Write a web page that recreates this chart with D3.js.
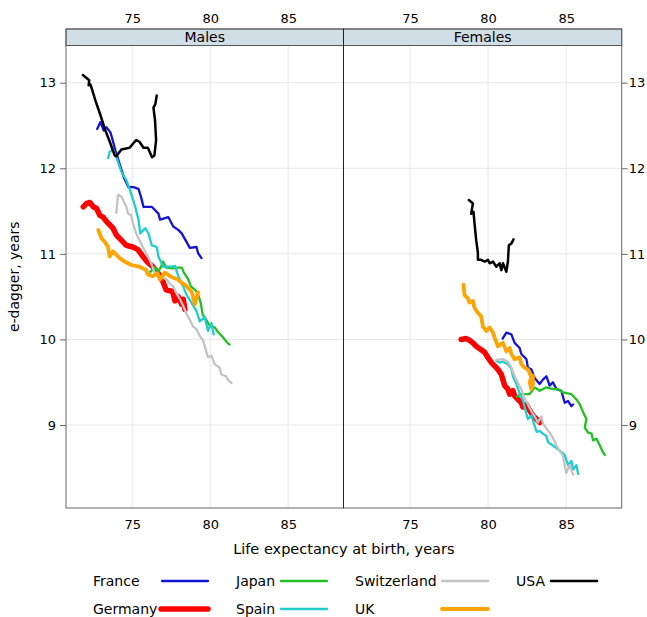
<!DOCTYPE html>
<html>
<head>
<meta charset="utf-8">
<script src="https://cdn.jsdelivr.net/npm/d3@7"></script>
<style>
  body { margin: 0; background: #fff; }
  text { font-family: "DejaVu Sans", sans-serif; fill: #000; }
</style>
</head>
<body>
<script>
// Categories, panels and tick labels
const countries = ["France", "Germany", "Japan", "Spain", "Switzerland", "UK", "USA"];
const sexes = ["Males", "Females"];
const xTicks = [75, 80, 85];
const yTicks = [9, 10, 11, 12, 13];

// [life expectancy at birth, e-dagger]
const franceMales = [[72.75,12.46],[72.96,12.54],[73.17,12.44],[73.34,12.48],[73.60,12.42],[73.71,12.35],[73.92,12.21],[74.24,12.02],[74.49,11.88],[74.75,11.78],[75.08,11.78],[75.40,11.76],[75.57,11.66],[75.72,11.55],[76.25,11.55],[76.68,11.47],[76.78,11.40],[77.31,11.43],[77.63,11.32],[77.95,11.28],[78.17,11.24],[78.48,11.14],[78.69,11.07],[79.12,11.08],[79.22,11.01],[79.44,10.95]];
const germanyMales = [[71.86,11.55],[72.07,11.59],[72.28,11.60],[72.50,11.55],[72.71,11.53],[72.92,11.45],[73.13,11.43],[73.34,11.38],[73.55,11.34],[73.77,11.30],[73.98,11.22],[74.30,11.16],[74.62,11.10],[75.04,11.08],[75.36,11.05],[75.68,10.97],[76.00,10.90],[76.32,10.85],[76.64,10.78],[76.96,10.68],[77.17,10.58],[77.59,10.56],[77.74,10.45],[77.95,10.50],[78.17,10.41],[78.27,10.47],[78.38,10.35]];
const japanMales = [[76.15,10.79],[76.46,10.84],[76.66,10.79],[76.85,10.85],[76.97,10.91],[77.17,10.84],[77.61,10.83],[77.93,10.84],[78.18,10.84],[78.31,10.78],[78.57,10.71],[78.76,10.62],[79.08,10.57],[79.27,10.50],[79.39,10.43],[79.52,10.29],[79.78,10.22],[79.97,10.16],[80.29,10.14],[80.48,10.09],[80.80,10.03],[81.05,9.97],[81.24,9.94]];
const spainMales = [[73.45,12.12],[73.55,12.19],[73.77,12.22],[73.98,12.13],[74.19,12.02],[74.30,11.96],[74.62,11.86],[74.87,11.74],[75.19,11.55],[75.40,11.40],[75.51,11.24],[75.83,11.30],[76.04,11.24],[76.25,11.10],[76.57,11.08],[76.68,10.97],[76.99,10.85],[77.31,10.85],[77.53,10.85],[77.74,10.86],[77.95,10.74],[78.27,10.62],[78.48,10.52],[78.80,10.43],[79.12,10.33],[79.33,10.21],[79.65,10.26],[79.86,10.10],[80.08,10.19],[80.22,10.06]];
const switzerlandMales = [[73.98,11.48],[74.09,11.69],[74.30,11.67],[74.62,11.55],[74.73,11.47],[74.94,11.45],[75.04,11.36],[75.25,11.24],[75.46,11.16],[75.68,11.08],[76.00,10.97],[76.21,10.89],[76.42,10.79],[76.74,10.74],[77.21,10.70],[77.42,10.65],[77.63,10.62],[77.80,10.55],[78.06,10.47],[78.27,10.39],[78.48,10.30],[78.69,10.23],[78.90,10.15],[79.12,10.12],[79.33,10.04],[79.52,10.00],[79.65,9.92],[79.86,9.79],[80.08,9.81],[80.29,9.71],[80.61,9.67],[80.71,9.59],[81.03,9.57],[81.13,9.53],[81.37,9.49]];
const ukMales = [[72.82,11.28],[73.03,11.18],[73.24,11.14],[73.45,11.08],[73.55,10.97],[73.77,11.03],[73.98,10.99],[74.19,10.95],[74.51,10.91],[74.94,10.87],[75.46,10.85],[75.89,10.81],[76.00,10.76],[76.32,10.74],[76.64,10.77],[76.78,10.70],[77.10,10.78],[77.42,10.74],[77.63,10.72],[77.95,10.70],[78.17,10.66],[78.38,10.64],[78.59,10.60],[78.80,10.56],[78.90,10.50],[79.01,10.41],[79.14,10.49],[79.22,10.55]];
const usaMales = [[71.83,13.09],[72.24,13.03],[72.20,12.97],[72.32,12.98],[72.64,12.79],[72.96,12.62],[73.28,12.44],[73.60,12.29],[73.87,12.15],[73.98,12.14],[74.30,12.22],[74.83,12.24],[75.25,12.33],[75.46,12.31],[75.72,12.24],[76.00,12.24],[76.27,12.13],[76.42,12.15],[76.53,12.33],[76.46,12.56],[76.36,12.71],[76.48,12.75],[76.57,12.85]];

const franceFemales = [[80.93,10.01],[81.17,10.08],[81.49,10.06],[81.70,9.96],[82.02,9.90],[82.13,9.83],[82.45,9.77],[82.55,9.67],[82.77,9.65],[82.98,9.55],[83.30,9.48],[83.51,9.53],[83.73,9.57],[83.94,9.46],[84.15,9.50],[84.37,9.42],[84.69,9.40],[84.90,9.26],[85.12,9.28],[85.33,9.22],[85.44,9.24]];
const germanyFemales = [[78.28,10.00],[78.60,10.01],[78.81,9.99],[79.03,9.96],[79.24,9.92],[79.56,9.88],[79.78,9.85],[79.99,9.79],[80.21,9.73],[80.42,9.69],[80.63,9.65],[80.85,9.59],[80.95,9.53],[81.06,9.46],[81.27,9.42],[81.38,9.36],[81.59,9.40],[81.70,9.34],[81.91,9.30],[82.13,9.26],[82.23,9.21],[82.45,9.24],[82.66,9.17],[82.87,9.11],[83.09,9.07],[83.30,9.03]];
const japanFemales = [[81.83,9.33],[82.13,9.36],[82.66,9.36],[82.98,9.44],[83.30,9.40],[83.73,9.44],[84.15,9.42],[84.47,9.42],[84.79,9.38],[85.33,9.36],[85.65,9.30],[85.87,9.24],[86.08,9.15],[86.29,9.07],[86.19,8.97],[86.40,8.91],[86.62,8.90],[86.72,8.82],[86.94,8.84],[87.15,8.76],[87.36,8.68],[87.47,8.65]];
const spainFemales = [[80.54,9.75],[80.74,9.73],[80.95,9.74],[81.27,9.71],[81.49,9.66],[81.59,9.57],[81.81,9.48],[82.02,9.37],[82.23,9.29],[82.34,9.21],[82.45,9.13],[82.55,9.07],[82.77,9.11],[82.87,9.05],[82.98,8.99],[83.11,8.92],[83.30,8.93],[83.51,8.90],[83.73,8.87],[83.83,8.80],[84.15,8.76],[84.37,8.73],[84.58,8.70],[84.90,8.65],[85.12,8.53],[85.33,8.58],[85.44,8.48],[85.65,8.53],[85.76,8.43]];
const switzerlandFemales = [[80.54,9.76],[80.95,9.77],[81.27,9.74],[81.49,9.67],[81.70,9.57],[81.91,9.49],[82.13,9.42],[82.34,9.31],[82.55,9.24],[82.77,9.16],[82.98,9.10],[83.19,9.03],[83.41,9.10],[83.51,9.02],[83.73,8.96],[83.94,8.91],[84.15,8.85],[84.37,8.76],[84.58,8.70],[84.79,8.64],[84.90,8.53],[85.01,8.44],[85.22,8.53],[85.44,8.42]];
const ukFemales = [[78.43,10.64],[78.49,10.52],[78.71,10.48],[78.81,10.43],[79.03,10.45],[79.13,10.37],[79.35,10.31],[79.56,10.27],[79.67,10.15],[79.88,10.10],[80.10,10.14],[80.31,10.08],[80.42,10.02],[80.63,9.92],[80.95,9.96],[81.17,9.86],[81.38,9.90],[81.49,9.83],[81.70,9.77],[82.02,9.79],[82.13,9.71],[82.34,9.67],[82.55,9.65],[82.66,9.61],[82.77,9.55],[82.66,9.50],[82.77,9.42],[82.87,9.48],[82.87,9.58]];
const usaFemales = [[78.77,11.63],[79.03,11.59],[78.92,11.47],[79.07,11.49],[79.13,11.36],[79.24,11.16],[79.35,11.01],[79.35,10.93],[79.56,10.93],[79.78,10.91],[79.99,10.93],[80.10,10.89],[80.31,10.91],[80.53,10.85],[80.74,10.89],[80.85,10.81],[80.95,10.89],[81.17,10.79],[81.27,10.91],[81.33,11.10],[81.49,11.12],[81.63,11.17]];

const series = {
  Males: [franceMales, germanyMales, japanMales, spainMales, switzerlandMales, ukMales, usaMales],
  Females: [franceFemales, germanyFemales, japanFemales, spainFemales, switzerlandFemales, ukFemales, usaFemales]
};

// styles
const colors = { France: "#1414d2", Germany: "#ff0000", Japan: "#22c022", Spain: "#22cccc",
                 Switzerland: "#c3c3c3", UK: "#ffa500", USA: "#000000" };
const widths = { France: 2.3, Germany: 5.5, Japan: 2.3, Spain: 2.3, Switzerland: 2.3, UK: 3.8, USA: 2.5 };

const W = 647, H = 617;
const stripTop = 29, panelTop = 45.5, panelBottom = 508;
const panelX = [[66, 343.5], [343.5, 621.7]];

const svg = d3.select("body").append("svg")
    .attr("width", W)
    .attr("height", H);

const y = d3.scaleLinear().domain([8.03, 13.435]).range([panelBottom, panelTop]);

sexes.forEach(function (sex, i) {
  const x = d3.scaleLinear().domain([70.75, 88.55]).range(panelX[i]);
  const g = svg.append("g");

  // grid
  g.selectAll(".vg").data(xTicks).join("line")
    .attr("x1", d => x(d)).attr("x2", d => x(d))
    .attr("y1", panelTop).attr("y2", panelBottom)
    .attr("stroke", "#e8e8e8");
  g.selectAll(".hg").data(yTicks).join("line")
    .attr("class", "hg")
    .attr("x1", panelX[i][0]).attr("x2", panelX[i][1])
    .attr("y1", d => y(d)).attr("y2", d => y(d))
    .attr("stroke", "#e8e8e8");

  svg.append("clipPath").attr("id", "clip" + i)
    .append("rect")
    .attr("x", panelX[i][0]).attr("y", panelTop)
    .attr("width", panelX[i][1] - panelX[i][0]).attr("height", panelBottom - panelTop);

  const line = d3.line().x(d => x(d[0])).y(d => y(d[1]));

  g.append("g").attr("clip-path", `url(#clip${i})`)
    .selectAll("path")
    .data(series[sex])
    .join("path")
    .attr("d", line)
    .attr("fill", "none")
    .attr("stroke", (d, k) => colors[countries[k]])
    .attr("stroke-width", (d, k) => widths[countries[k]])
    .attr("stroke-linejoin", "round")
    .attr("stroke-linecap", "round");

  // strip
  g.append("rect")
    .attr("x", panelX[i][0]).attr("y", stripTop)
    .attr("width", panelX[i][1] - panelX[i][0]).attr("height", panelTop - stripTop)
    .attr("fill", "#d2dee6").attr("stroke", "#555");
  g.append("text")
    .attr("x", (panelX[i][0] + panelX[i][1]) / 2).attr("y", panelTop - 3.5)
    .attr("text-anchor", "middle").style("font-size", "14px")
    .text(sex);

  // top and bottom axes
  const top = g.append("g").attr("transform", `translate(0,${stripTop})`)
    .call(d3.axisTop(x).tickValues(xTicks).tickSize(0).tickPadding(6));
  const bottom = g.append("g").attr("transform", `translate(0,${panelBottom})`)
    .call(d3.axisBottom(x).tickValues(xTicks).tickSize(0).tickPadding(12));
  [top, bottom].forEach(a => {
    a.select(".domain").remove();
    a.selectAll("text").style("font-size", "13px").style("font-family", "DejaVu Sans");
  });

  // panel border
  g.append("rect")
    .attr("x", panelX[i][0]).attr("y", stripTop)
    .attr("width", panelX[i][1] - panelX[i][0]).attr("height", panelBottom - stripTop)
    .attr("fill", "none").attr("stroke", "#666");
});

// middle divider
svg.append("line")
  .attr("x1", panelX[1][0]).attr("x2", panelX[1][0])
  .attr("y1", stripTop).attr("y2", panelBottom)
  .attr("stroke", "#222");

// y axes
const left = svg.append("g").attr("transform", `translate(${panelX[0][0]},0)`)
  .call(d3.axisLeft(y).tickValues(yTicks).tickFormat(d3.format("d")).tickSize(6).tickPadding(4));
const right = svg.append("g").attr("transform", `translate(${panelX[1][1]},0)`)
  .call(d3.axisRight(y).tickValues(yTicks).tickFormat(d3.format("d")).tickSize(6).tickPadding(1));
[left, right].forEach(a => {
  a.select(".domain").remove();
  a.selectAll("line").attr("stroke", "#666");
  a.selectAll("text").style("font-size", "13px").style("font-family", "DejaVu Sans");
});

// axis titles
svg.append("text")
  .attr("x", (panelX[0][0] + panelX[1][1]) / 2).attr("y", 554)
  .attr("text-anchor", "middle").style("font-size", "14.5px")
  .text("Life expectancy at birth, years");
svg.append("text")
  .attr("transform", `translate(19,${(panelTop + panelBottom) / 2}) rotate(-90)`)
  .attr("text-anchor", "middle").style("font-size", "14px")
  .text("e-dagger, years");

// legend
const legendPos = {
  France: [93, 581, 162, 208], Japan: [236, 581, 281, 327], Switzerland: [355, 581, 442, 488], USA: [516, 581, 551, 597],
  Germany: [93, 609, 161, 208], Spain: [236, 609, 281, 327], UK: [355, 609, 442, 488]
};
const legend = svg.append("g");
countries.forEach(function (c) {
  const p = legendPos[c];
  legend.append("text").attr("x", p[0]).attr("y", p[1] + 5)
    .style("font-size", "14px").text(c);
  legend.append("line")
    .attr("x1", p[2]).attr("x2", p[3]).attr("y1", p[1]).attr("y2", p[1])
    .attr("stroke", colors[c]).attr("stroke-width", widths[c])
    .attr("stroke-linecap", "round");
});
</script>
</body>
</html>
